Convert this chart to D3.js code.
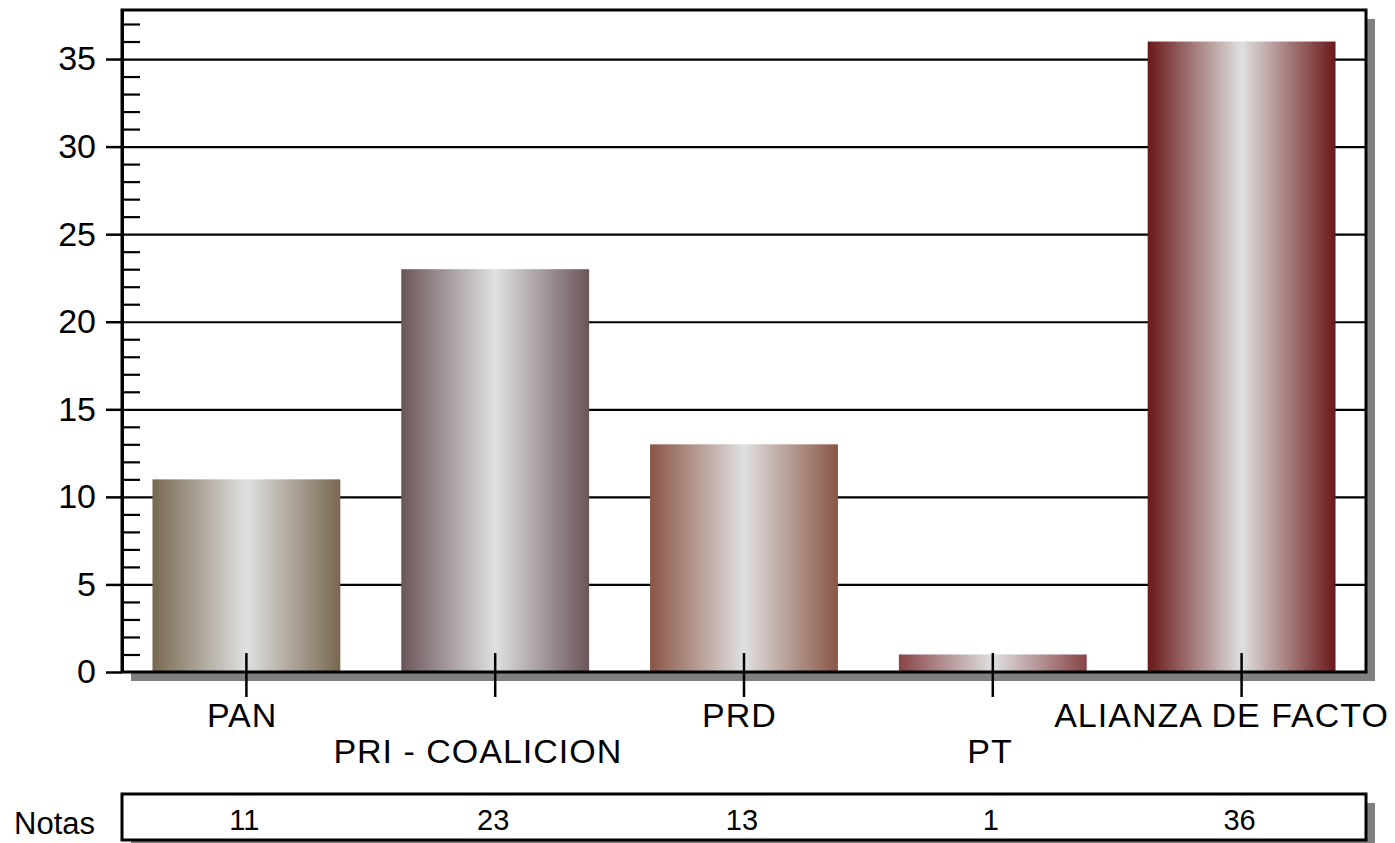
<!DOCTYPE html>
<html>
<head>
<meta charset="utf-8">
<script src="https://cdn.jsdelivr.net/npm/d3@7"></script>
<style>
	body { margin: 0; background: #fff; }
	svg { display: block; font-family: "Liberation Sans", Arial, sans-serif; }
	.axis path, .axis line { stroke: #000; }
</style>
</head>
<body>
<svg id="chart" width="1395" height="843"></svg>
<script>
// data
var parties = ["PAN", "PRI - COALICION", "PRD", "PT", "ALIANZA DE FACTO"];
var notas = [11, 23, 13, 1, 36];
var edgeColors = ["#786850", "#6a5558", "#8a5545", "#884448", "#6a1818"];
var majorTicks = [0, 5, 10, 15, 20, 25, 30, 35];
var minorTicks = d3.range(1, 38).filter(d => d % 5 !== 0);
var yMax = 37.8;

//LAYOUT
var margin = { top: 10, left: 122, right: 29, bottom: 171 };
var outerWidth = 1395, outerHeight = 843;
var width = outerWidth - margin.left - margin.right;
var height = outerHeight - margin.top - margin.bottom;
var shadow = 9;

var svg = d3.select("#chart");

var defs = svg.append("defs");
parties.forEach((p, i) => {
	var grad = defs.append("linearGradient")
		.attr("id", "grad" + i)
		.attr("x1", "0%").attr("x2", "100%")
		.attr("y1", "0%").attr("y2", "0%");
	grad.append("stop").attr("offset", "0%").attr("stop-color", edgeColors[i]);
	grad.append("stop").attr("offset", "50%").attr("stop-color", "#e0e0e0");
	grad.append("stop").attr("offset", "100%").attr("stop-color", edgeColors[i]);
});

var g = svg.append("g")
	.attr("transform", "translate(" + margin.left + "," + margin.top + ")");

//scales
var xScale = d3.scaleBand()
	.domain(parties)
	.range([0, width])
	.paddingInner(0.245)
	.paddingOuter(0.1225);

var yScale = d3.scaleLinear()
	.domain([0, yMax])
	.range([height, 0]);

//frame with shadow
g.append("rect")
	.attr("x", shadow).attr("y", shadow)
	.attr("width", width).attr("height", height)
	.attr("fill", "#808080");
g.append("rect")
	.attr("width", width).attr("height", height)
	.attr("fill", "#fff");

//gridlines
g.append("g")
	.attr("class", "axis grid")
	.call(d3.axisLeft(yScale).tickValues(majorTicks.slice(1)).tickSize(-width).tickFormat(""))
	.call(s => s.select(".domain").remove())
	.selectAll("line").attr("stroke-width", 2.2);

//minor ticks, inside
g.append("g")
	.attr("class", "axis")
	.call(d3.axisRight(yScale).tickValues(minorTicks).tickSize(18).tickFormat(""))
	.call(s => s.select(".domain").remove())
	.selectAll("line").attr("stroke-width", 2.2);

//bars
g.selectAll("rect.bar")
	.data(parties)
	.enter()
	.append("rect")
	.attr("class", "bar")
	.attr("x", d => xScale(d))
	.attr("y", (d, i) => yScale(notas[i]))
	.attr("width", xScale.bandwidth())
	.attr("height", (d, i) => height - yScale(notas[i]))
	.attr("fill", (d, i) => "url(#grad" + i + ")");

//frame border
g.append("rect")
	.attr("width", width).attr("height", height)
	.attr("fill", "none")
	.attr("stroke", "#000")
	.attr("stroke-width", 3);

//y axis, major ticks outward
var yAxis = g.append("g")
	.attr("class", "axis")
	.call(d3.axisLeft(yScale).tickValues(majorTicks).tickSize(16).tickSizeOuter(0).tickPadding(10));
yAxis.select(".domain").attr("stroke-width", 3);
yAxis.selectAll("line").attr("stroke-width", 2.5);
yAxis.selectAll("text")
	.attr("font-size", 34)
	.attr("fill", "#000")
	.attr("font-family", "Liberation Sans, Arial, sans-serif");

//x axis ticks, crossing the base line
var xAxis = g.append("g")
	.attr("class", "axis")
	.attr("transform", "translate(0," + (height - 19) + ")")
	.call(d3.axisBottom(xScale).tickSize(44).tickSizeOuter(0).tickFormat(""));
xAxis.select(".domain").remove();
xAxis.selectAll("line").attr("stroke-width", 2.5);

//x labels on two rows
var rows = [55, 91];
g.selectAll("text.xlabel")
	.data(parties)
	.enter()
	.append("text")
	.attr("class", "xlabel")
	.attr("y", (d, i) => height + rows[i % 2])
	.attr("font-size", 34)
	.attr("letter-spacing", 1)
	.text(d => d)
	.attr("x", function(d) {
		var w = this.getComputedTextLength();
		return xScale(d) + xScale.bandwidth() / 2 - 0.56 * w;
	});

//Notas table
var tableTop = 784, tableHeight = 46;
g.append("rect")
	.attr("x", shadow).attr("y", tableTop + shadow)
	.attr("width", width).attr("height", tableHeight)
	.attr("fill", "#808080");
g.append("rect")
	.attr("y", tableTop)
	.attr("width", width).attr("height", tableHeight)
	.attr("fill", "#fff")
	.attr("stroke", "#000")
	.attr("stroke-width", 3);

g.selectAll("text.nota")
	.data(parties)
	.enter()
	.append("text")
	.attr("class", "nota")
	.attr("x", d => xScale(d) + xScale.bandwidth() / 2 - 2)
	.attr("y", tableTop + 36)
	.attr("text-anchor", "middle")
	.attr("font-size", 29)
	.text((d, i) => notas[i]);

svg.append("text")
	.attr("x", 14)
	.attr("y", 834)
	.attr("font-size", 31)
	.text("Notas");
</script>
</body>
</html>
